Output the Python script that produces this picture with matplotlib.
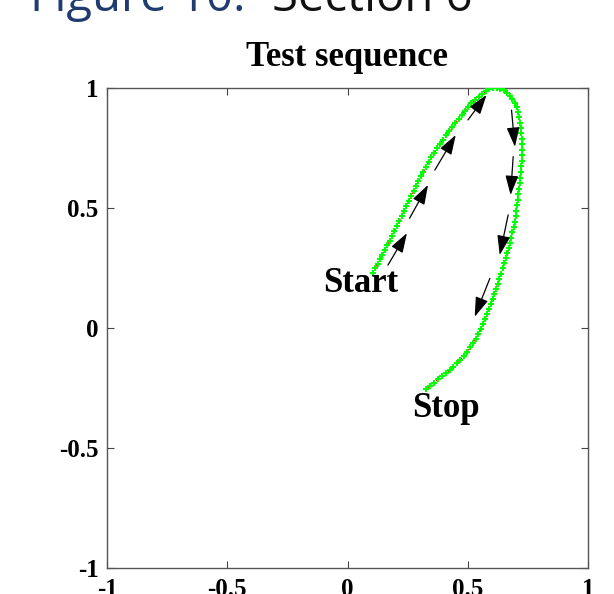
import matplotlib
matplotlib.use("Agg")
import matplotlib.pyplot as plt

plt.rcParams['font.family'] = ['Liberation Serif', 'DejaVu Serif']
plt.rcParams['axes.unicode_minus'] = False

# trajectory samples (x, y)
path_x = [0.105, 0.115, 0.125, 0.135, 0.145, 0.155, 0.165, 0.175, 0.185, 0.195,
          0.205, 0.215, 0.225, 0.235, 0.245, 0.255, 0.265, 0.275, 0.285, 0.295,
          0.305, 0.316, 0.327, 0.338, 0.349, 0.361, 0.373, 0.385, 0.397, 0.410,
          0.423, 0.436, 0.449, 0.462, 0.475, 0.488, 0.501, 0.515, 0.530, 0.545,
          0.560, 0.575, 0.590, 0.605, 0.620, 0.635, 0.650, 0.663, 0.675, 0.686,
          0.695, 0.703, 0.709, 0.714, 0.718, 0.721, 0.723, 0.724, 0.725, 0.725,
          0.725, 0.724, 0.723, 0.721, 0.719, 0.717, 0.714, 0.711, 0.708, 0.705,
          0.702, 0.699, 0.695, 0.691, 0.686, 0.681, 0.676, 0.671, 0.665, 0.659,
          0.652, 0.645, 0.638, 0.631, 0.624, 0.617, 0.610, 0.603, 0.596, 0.588,
          0.580, 0.572, 0.563, 0.554, 0.544, 0.533, 0.521, 0.509, 0.496, 0.483,
          0.469, 0.455, 0.440, 0.425, 0.409, 0.393, 0.377, 0.360, 0.343, 0.326]
path_y = [0.230, 0.249, 0.268, 0.287, 0.306, 0.325, 0.344, 0.364, 0.384, 0.404,
          0.424, 0.445, 0.466, 0.487, 0.508, 0.529, 0.550, 0.571, 0.592, 0.612,
          0.632, 0.652, 0.672, 0.692, 0.711, 0.730, 0.749, 0.767, 0.785, 0.803,
          0.821, 0.838, 0.855, 0.872, 0.889, 0.905, 0.921, 0.936, 0.950, 0.963,
          0.975, 0.986, 0.994, 0.999, 1.000, 0.997, 0.990, 0.980, 0.968, 0.953,
          0.937, 0.919, 0.899, 0.878, 0.856, 0.834, 0.811, 0.788, 0.765, 0.742,
          0.719, 0.696, 0.673, 0.650, 0.627, 0.604, 0.581, 0.558, 0.535, 0.512,
          0.489, 0.466, 0.443, 0.420, 0.398, 0.376, 0.354, 0.332, 0.311, 0.290,
          0.269, 0.248, 0.227, 0.206, 0.185, 0.164, 0.143, 0.122, 0.101, 0.080,
          0.059, 0.037, 0.016, -0.005, -0.025, -0.044, -0.063, -0.081, -0.099, -0.116,
          -0.132, -0.147, -0.162, -0.176, -0.189, -0.202, -0.214, -0.228, -0.242, -0.256]

# direction arrows: tail -> tip
arrow_tail_x = [0.168, 0.258, 0.363, 0.501, 0.682, 0.689, 0.668, 0.592]
arrow_tail_y = [0.262, 0.457, 0.658, 0.867, 0.908, 0.714, 0.471, 0.207]
arrow_tip_x = [0.247, 0.335, 0.450, 0.578, 0.696, 0.678, 0.633, 0.529]
arrow_tip_y = [0.395, 0.596, 0.804, 0.971, 0.755, 0.554, 0.304, 0.047]

ticks = [-1, -0.5, 0, 0.5, 1]
tick_labels = ['-1', '-0.5', '0', '0.5', '1']

fig = plt.figure(figsize=(6.14, 5.94), dpi=100)
ax = fig.add_axes([107 / 614, 26 / 594, 481 / 614, 480 / 594])

ax.plot(path_x, path_y, color='red', ls=':', lw=1.0, zorder=2)
ax.plot(path_x, path_y, ls='none', marker='+', ms=5, mew=1.5,
        color=(0.0, 1.0, 0.0), zorder=3)

for x0, y0, x1, y1 in zip(arrow_tail_x, arrow_tail_y, arrow_tip_x, arrow_tip_y):
    ax.annotate('', xy=(x1, y1), xytext=(x0, y0),
                arrowprops=dict(arrowstyle='-|>,head_length=0.6,head_width=0.2',
                                color='black', lw=0.9, mutation_scale=20,
                                shrinkA=0, shrinkB=0), zorder=4)

ax.text(0.056, 0.15, 'Start', ha='center', va='baseline',
        fontsize=25, fontweight='bold')
ax.text(0.408, -0.371, 'Stop', ha='center', va='baseline',
        fontsize=25, fontweight='bold')

ax.set_xlim(-1, 1)
ax.set_ylim(-1, 1)
ax.set_xticks(ticks)
ax.set_yticks(ticks)
ax.set_xticklabels(tick_labels, fontsize=18, fontweight='bold')
ax.set_yticklabels(tick_labels, fontsize=18, fontweight='bold')
ax.tick_params(direction='in', length=5, width=0.8, color='#444444',
               top=True, right=True)
ax.tick_params(axis='y', pad=6)
ax.tick_params(axis='x', pad=7)
for sp in ax.spines.values():
    sp.set_color('#555555')
    sp.set_linewidth(1.0)

ax.text(0.5, 1.045, 'Test sequence', transform=ax.transAxes, ha='center',
        va='baseline', fontsize=25, fontweight='bold')

# document heading above the plot
fig.text(30 / 614, 1 - 11 / 594, 'Figure 10:', color='#1f3b70',
         fontsize=34, family=['Open Sans', 'DejaVu Sans'], va='baseline')
fig.text(272 / 614, 1 - 11 / 594, 'Section 6', color='#111111',
         fontsize=34, family=['Open Sans', 'DejaVu Sans'], va='baseline')

fig.savefig('out.png', dpi=100)
